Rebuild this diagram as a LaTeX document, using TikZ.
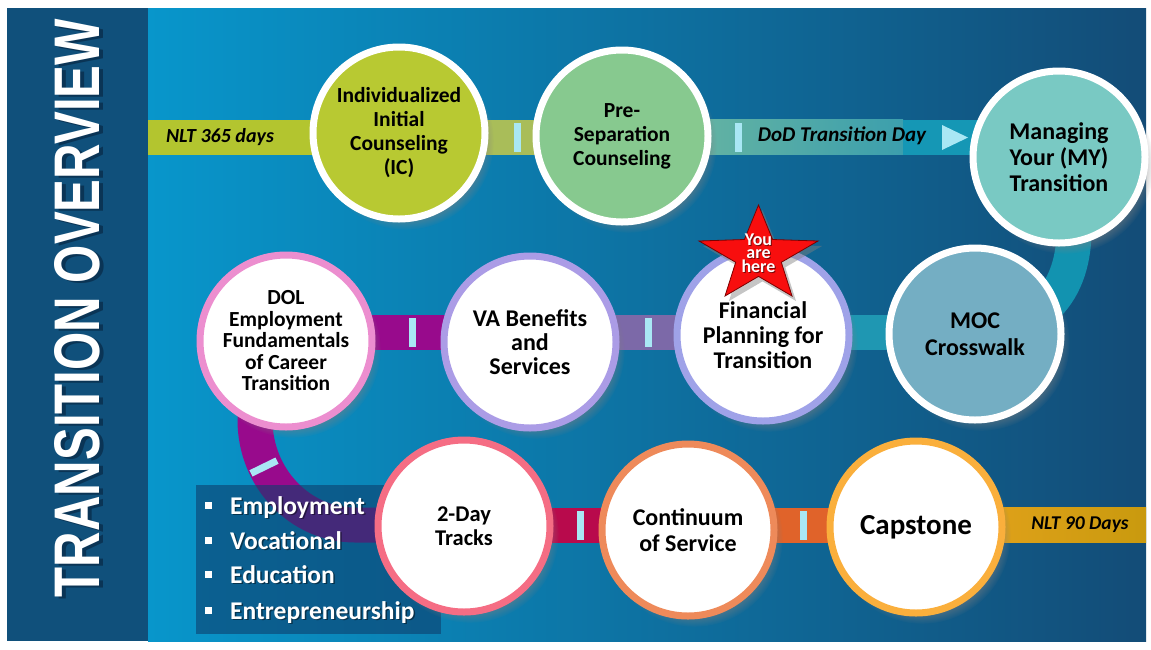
\documentclass[tikz,border=0pt]{standalone}
\usepackage{fontspec}
\usepackage{graphicx}
\setmainfont{Carlito}
\newfontfamily\titlefont{Liberation Sans}
\usetikzlibrary{shadows,calc}
\pgfdeclarelayer{back}
\pgfdeclarelayer{bands}
\pgfsetlayers{back,bands,main}
\definecolor{bgL}{HTML}{0896CB}
\definecolor{bgM}{HTML}{0A6E9F}
\definecolor{bgR}{HTML}{134C77}
\definecolor{panel}{HTML}{10507B}
\definecolor{titlesh}{HTML}{06223C}
\definecolor{icF}{HTML}{B8C932}
\definecolor{psF}{HTML}{87C98F}
\definecolor{myF}{HTML}{79C9C3}
\definecolor{mocF}{HTML}{74AEC3}
\definecolor{fpB}{HTML}{9FA2E8}
\definecolor{vaB}{HTML}{AB9CE6}
\definecolor{dolB}{HTML}{EC8ECF}
\definecolor{tdB}{HTML}{F56D84}
\definecolor{csB}{HTML}{EE8A5A}
\definecolor{cpB}{HTML}{FAAF3C}
\definecolor{b1}{HTML}{B3C52F}
\definecolor{b2}{HTML}{A9BD59}
\definecolor{b3L}{HTML}{72BA9F}
\definecolor{b3R}{HTML}{3C9FAD}
\definecolor{b4}{HTML}{1597B5}
\definecolor{m1}{HTML}{1293B0}
\definecolor{m2}{HTML}{1F97B2}
\definecolor{m3}{HTML}{7C69A8}
\definecolor{m4}{HTML}{980A8C}
\definecolor{lo1}{HTML}{B80A4C}
\definecolor{lo2}{HTML}{E0632A}
\definecolor{lo3L}{HTML}{E9A41F}
\definecolor{lo3R}{HTML}{C99A0E}
\definecolor{tickc}{HTML}{A9E7F4}
\definecolor{boxc}{HTML}{0D3F6D}
\definecolor{starR}{HTML}{F80E0E}
\definecolor{starD}{HTML}{7A0000}
\tikzset{
  circ/.style={circle, inner sep=0pt, minimum size=172pt, line width=7pt, align=center, text=black,
    circular drop shadow={shadow xshift=6pt, shadow yshift=-8pt, shadow scale=1.03, opacity=0.6}},
  band/.style={line width=35pt, line cap=butt},
  tickn/.style={rectangle, fill=tickc, minimum width=7pt, minimum height=29pt, inner sep=0pt},
  lbl/.style={font=\bfseries\itshape\fontsize{20}{24}\selectfont, text=black, inner sep=0pt},
  item/.style={anchor=base west, text=white, font=\bfseries\fontsize{25.5}{30}\selectfont, inner sep=0pt},
  itemsh/.style={item, text=black, opacity=0.45},
  bul/.style={rectangle, fill=white, minimum size=7pt, inner sep=0pt},
  startxt/.style={font=\bfseries\fontsize{18}{13.5}\selectfont, align=center, inner sep=0pt},
}
\begin{document}
\begin{tikzpicture}[x=1pt,y=-1pt]
\useasboundingbox (0,0) rectangle (1151,649);
\begin{pgfonlayer}{back}
\fill[white] (0,0) rectangle (1151,649);
\shade[left color=bgL, middle color=bgM, right color=bgR] (148,8) rectangle (1146,641);
\fill[panel] (7,8) rectangle (148,641);
\end{pgfonlayer}

% title
\node[rotate=90, inner sep=0pt, text=titlesh, opacity=0.6] (titleshadow) at (81,310) {\resizebox{578pt}{45pt}{\titlefont\bfseries TRANSITION OVERVIEW}};
\node[rotate=90, inner sep=0pt, text=white] (title) at (77,308) {\resizebox{578pt}{45pt}{\titlefont\bfseries TRANSITION OVERVIEW}};

% circles
\node[circ, draw=white, fill=icF, font=\bfseries\fontsize{21.5}{24}\selectfont] (IC) at (399,133) {Individualized\\Initial\\Counseling\\(IC)};
\node[circ, draw=white, fill=psF, font=\bfseries\fontsize{21.5}{24}\selectfont] (PS) at (622,136) {Pre-\\Separation\\Counseling};
\node[circ, draw=white, fill=myF, font=\bfseries\fontsize{24}{26}\selectfont] (MY) at (1059,157) {Managing\\Your (MY)\\Transition};
\node[circ, draw=white, fill=mocF, font=\bfseries\fontsize{24}{27}\selectfont] (MOC) at (975,334) {MOC\\Crosswalk};
\node[circ, draw=fpB, fill=white, font=\bfseries\fontsize{24}{25}\selectfont] (FP) at (763,335) {Financial\\Planning for\\Transition};
\node[circ, draw=vaB, fill=white, font=\bfseries\fontsize{24}{24}\selectfont] (VA) at (530,342) {VA Benefits\\and\\Services};
\node[circ, draw=dolB, fill=white, font=\bfseries\fontsize{21.5}{21.5}\selectfont] (DOL) at (286,341) {DOL\\Employment\\Fundamentals\\of Career\\Transition};
\node[circ, draw=tdB, fill=white, font=\bfseries\fontsize{22.5}{24}\selectfont] (TD) at (464,526) {2-Day\\Tracks};
\node[circ, draw=csB, fill=white, font=\bfseries\fontsize{24}{26}\selectfont] (CS) at (688,530) {Continuum\\of Service};
\node[circ, draw=cpB, fill=white, font=\bfseries\fontsize{29}{30}\selectfont] (CP) at (916,527) {Capstone};

% star
\path[fill=starR, draw=starD, line width=0.8pt, drop shadow={shadow xshift=4pt, shadow yshift=-5pt, opacity=0.45}]
  (758.5,205) -- (772.6,239.5) -- (818,241) -- (781.3,262.3) -- (792,296) -- (758.5,276.4)
  -- (725,296) -- (735.7,262.3) -- (699,241) -- (744.4,239.5) -- cycle;
\node[startxt, text=black, opacity=0.5] (starsh) at (759.5,254) {You\\are\\here};
\node[startxt, text=white] (star) at (758.5,253) {You\\are\\here};

% bands
\begin{pgfonlayer}{bands}
\coordinate (L1) at (148,137);
\coordinate (D1) at (903,137);
\draw[band, draw=b1] (L1) -- (IC.center |- L1);
\draw[band, draw=b2] (IC.center |- L1) -- (PS.center |- L1);
\shade[left color=b3L, right color=b3R] ($(PS.center |- L1)+(0,-17.5)$) rectangle ($(D1)+(0,17.5)$);
\draw[band, draw=b4] (D1) -- (MY.center |- L1);

\coordinate (M) at (0,332);
\coordinate (c1) at (1074,230);
\draw[band, draw=m1] (MY.center -| c1) -- (c1) .. controls (1074,300) and (1030,332) .. (MOC.center |- M);
\draw[band, draw=m2] (MOC.center |- M) -- (FP.center |- M);
\draw[band, draw=m3] (FP.center |- M) -- (VA.center |- M);
\draw[band, draw=m4] (VA.center |- M) -- (DOL.center |- M);

\coordinate (a1) at (255,420);
\coordinate (a2) at (355,525);
\coordinate (B) at (0,525);
\coordinate (E) at (1146,542.5);
\draw[band, draw=m4] (a1 |- DOL.center) -- (a1) .. controls (255,478) and (300,525) .. (a2) -- (TD.center |- B);
\draw[band, draw=lo1] (TD.center |- B) -- (CS.center |- B);
\draw[band, draw=lo2] (CS.center |- B) -- (CP.center |- B);
\shade[left color=lo3L, right color=lo3R] ($(CP.center |- B)+(0,-17.5)$) rectangle (E);

\node[tickn] (t1) at (517,137) {};
\node[tickn] (t2) at (738,137) {};
\node[tickn] (t3) at (648,332) {};
\node[tickn] (t4) at (412,332) {};
\node[tickn, rotate=-64] (t5) at (264,467) {};
\node[tickn] (t6) at (580,525) {};
\node[tickn] (t7) at (803,525) {};
\fill[tickc] (942,125) -- (968,137.5) -- (942,150) -- cycle;

\node[fill=boxc, fill opacity=0.6, minimum width=245pt, minimum height=149pt, anchor=north west, inner sep=0pt] (box) at (196,485) {};
\end{pgfonlayer}

% band labels
\node[lbl] (nlt365) at (220,137) {NLT 365 days};
\node[lbl, font=\bfseries\itshape\fontsize{21}{24}\selectfont] (dod) at (842,136) {DoD Transition Day};
\node[lbl, font=\bfseries\itshape\fontsize{19.5}{24}\selectfont] (nlt90) at (1080,525) {NLT 90 Days};

% list
\foreach \t/\y/\n in {Employment/514/1, Vocational/549/2, Education/583/3, Entrepreneurship/619/4} {
  \node[itemsh] (ish\n) at (231.5,\y+1.5) {\t};
  \node[item] (it\n) at (230,\y) {\t};
  \node[bul] (bu\n) at (208.5,\y-9) {};
}
\end{tikzpicture}
\end{document}
